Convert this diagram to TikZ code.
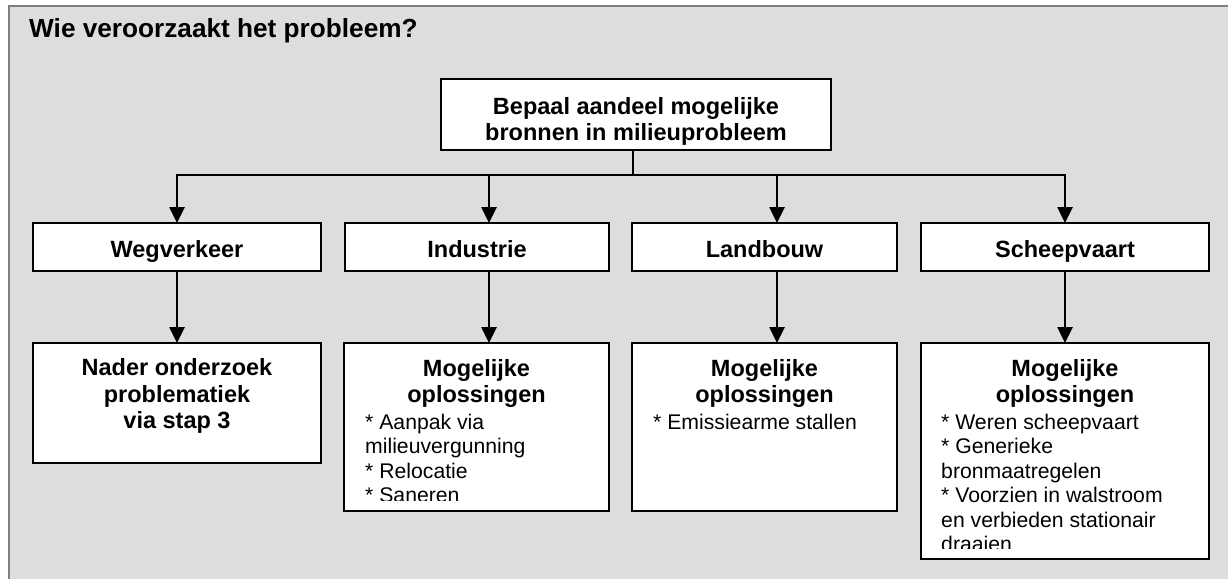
\documentclass[tikz,border=0pt]{standalone}
\usepackage{fontspec}
\setmainfont{Liberation Sans}
\usetikzlibrary{arrows.meta}
\definecolor{bgfill}{HTML}{DDDDDD}
\definecolor{framegray}{HTML}{7F7F7F}
\begin{document}
\begin{tikzpicture}[x=1pt,y=-1pt,
  box/.style={draw=black, fill=white, line width=2.6pt, inner sep=0pt, outer sep=0pt, anchor=north west},
  hd/.style={font=\bfseries\fontsize{23.5}{26}\selectfont, inner sep=0pt, anchor=base},
  bd/.style={font=\fontsize{21.2}{24.5}\selectfont, inner sep=0pt, anchor=base west},
  ttl/.style={font=\bfseries\fontsize{26.2}{30}\selectfont, inner sep=0pt, anchor=base west},
  link/.style={line width=2.6pt, draw=black, line cap=rect},
  arr/.style={line width=2.6pt, draw=black, -{Triangle[length=16pt,width=15pt]}}]

\useasboundingbox (0,0) rectangle (1228,579);
\clip (0,0) rectangle (1228,578);
\draw[fill=bgfill, draw=framegray, line width=2.5pt] (9,6) rectangle (1240,600);

\node[ttl] (title) at (29,37.3) {Wie veroorzaakt het probleem?};

% boxes
\node[box, minimum width=390pt, minimum height=71pt] (top) at (441,79) {};
\node[box, minimum width=288pt, minimum height=48pt] (w1) at (33,223) {};
\node[box, minimum width=264pt, minimum height=48pt] (w2) at (345,223) {};
\node[box, minimum width=265pt, minimum height=48pt] (w3) at (632,223) {};
\node[box, minimum width=288pt, minimum height=48pt] (w4) at (921,223) {};
\node[box, minimum width=288pt, minimum height=120pt] (l1) at (33,343) {};
\node[box, minimum width=265pt, minimum height=168pt] (l2) at (344,343) {};
\node[box, minimum width=265pt, minimum height=168pt] (l3) at (632,343) {};
\node[box, minimum width=288pt, minimum height=216pt] (l4) at (921,343) {};

% connectors
\coordinate (j) at (633,175);
\coordinate (hl) at (177,175);
\coordinate (hr) at (1065,175);
\coordinate (a2) at (489,175);
\coordinate (a3) at (777,175);
\draw[link] (top.south -| j) -- (j);
\draw[link] (hl) -- (hr);
\draw[arr] (hl) -- (w1.north);
\draw[arr] (a2) -- (a2 |- w2.north);
\draw[arr] (a3) -- (a3 |- w3.north);
\draw[arr] (hr) -- (w4.north);
\draw[arr] (w1.south) -- (l1.north);
\draw[arr] (w2.south -| a2) -- (l2.north -| a2);
\draw[arr] (w3.south -| a3) -- (l3.north -| a3);
\draw[arr] (w4.south) -- (l4.north);

% texts
\node[hd] (t1) at (636,114.3) {Bepaal aandeel mogelijke};
\node[hd] (t2) at (636,140.3) {bronnen in milieuprobleem};

\node[hd] (w1t) at (177,257.3) {Wegverkeer};
\node[hd] (w2t) at (477,257.3) {Industrie};
\node[hd] (w3t) at (764.5,257.3) {Landbouw};
\node[hd] (w4t) at (1065,257.3) {Scheepvaart};

\node[hd] (l1a) at (177,375.5) {Nader onderzoek};
\node[hd] (l1b) at (177,402) {problematiek};
\node[hd] (l1c) at (177,428.5) {via stap 3};

\begin{scope}
\clip (344,343) rectangle (609,500);
\node[hd] (l2a) at (476.5,376.5) {Mogelijke};
\node[hd] (l2b) at (476.5,402) {oplossingen};
\node[bd] (l2c) at (365,429) {* Aanpak via};
\node[bd] (l2d) at (365,453.5) {milieuvergunning};
\node[bd] (l2e) at (365,478) {* Relocatie};
\node[bd] (l2f) at (365,502.5) {* Saneren};
\end{scope}

\node[hd] (l3a) at (764.5,376.5) {Mogelijke};
\node[hd] (l3b) at (764.5,402) {oplossingen};
\node[bd] (l3c) at (653,429) {* Emissiearme stallen};

\begin{scope}
\clip (921,343) rectangle (1209,548);
\node[hd] (l4a) at (1065,376.5) {Mogelijke};
\node[hd] (l4b) at (1065,402) {oplossingen};
\node[bd] (l4c) at (941,429) {* Weren scheepvaart};
\node[bd] (l4d) at (941,453.5) {* Generieke};
\node[bd] (l4e) at (941,478) {bronmaatregelen};
\node[bd] (l4f) at (941,502.5) {* Voorzien in walstroom};
\node[bd] (l4g) at (941,527) {en verbieden stationair};
\node[bd] (l4h) at (941,551.5) {draaien};
\end{scope}
\end{tikzpicture}
\end{document}
